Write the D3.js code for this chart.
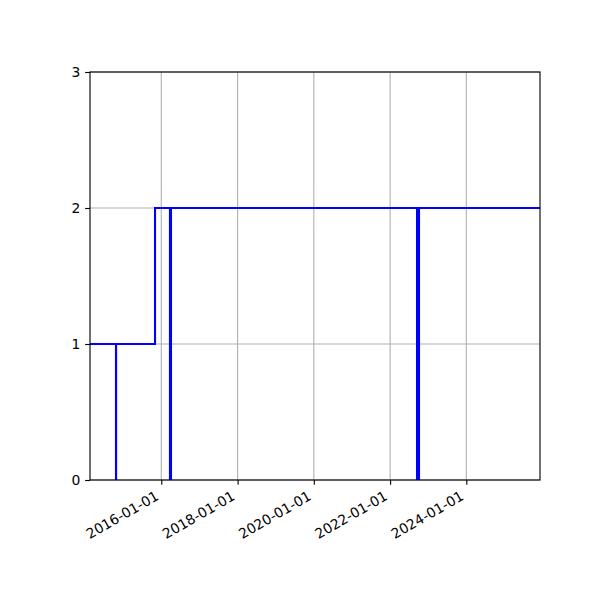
<!DOCTYPE html>
<html>
<head>
<meta charset="utf-8">
<script src="https://cdn.jsdelivr.net/npm/d3@7"></script>
<style>
  body { margin: 0; background: #fff; }
  text { font-family: "DejaVu Sans", sans-serif; font-size: 13.9px; fill: #000; }
</style>
</head>
<body>
<svg></svg>
<script>
// данные ступенчатого графика
const dates = ["2014-02-17", "2014-10-24", "2014-10-25", "2015-11-02",
               "2016-03-24", "2016-04-03", "2022-09-16", "2022-10-05", "2025-12-07"];
const values = [1, 0, 1, 2, 0, 2, 0, 2, 2];
const xTicks = ["2016-01-01", "2018-01-01", "2020-01-01", "2022-01-01", "2024-01-01"];
const yTicks = [0, 1, 2, 3];

const width = 600;
const height = 600;
const margin = {left: 90, right: 60, top: 72, bottom: 120};
const thin = 1.11; // 0.8pt

let svg = d3.select("svg")
    .attr("width", width)
    .attr("height", height);

const parse = d3.utcParse("%Y-%m-%d");
const data = dates.map((d, i) => ({date: parse(d), value: values[i]}));

const x = d3.scaleUtc()
    .domain(d3.extent(data, d => d.date))
    .range([margin.left, width - margin.right]);
const y = d3.scaleLinear()
    .domain([0, 3])
    .range([height - margin.bottom, margin.top]);

// сетка
let grid = svg.append("g")
    .style("stroke", "#b0b0b0")
    .style("stroke-width", thin);
grid.selectAll("line.gx").data(xTicks.map(parse)).join("line")
    .attr("class", "gx")
    .attr("x1", d => x(d)).attr("x2", d => x(d))
    .attr("y1", y(0)).attr("y2", y(3));
grid.selectAll("line.gy").data(yTicks).join("line")
    .attr("class", "gy")
    .attr("x1", x.range()[0]).attr("x2", x.range()[1])
    .attr("y1", d => y(d)).attr("y2", d => y(d));

// линия
svg.append("clipPath").attr("id", "clip")
    .append("rect")
    .attr("x", margin.left).attr("y", margin.top)
    .attr("width", width - margin.left - margin.right)
    .attr("height", height - margin.top - margin.bottom);

const line = d3.line()
    .x(d => x(d.date))
    .y(d => y(d.value))
    .curve(d3.curveStepAfter);

svg.append("path")
    .attr("d", line(data))
    .attr("clip-path", "url(#clip)")
    .attr("fill", "none")
    .attr("stroke", "#0000ff")
    .attr("stroke-width", 2.08)
    .attr("stroke-linejoin", "miter")
    .attr("stroke-linecap", "butt");

// оси
svg.append("g")
    .attr("transform", `translate(0, ${y(0)})`)
    .call(d3.axisBottom(x)
        .tickValues(xTicks.map(parse))
        .tickSize(4.86)
        .tickFormat(""));
svg.append("g")
    .attr("transform", `translate(${margin.left}, 0)`)
    .call(d3.axisLeft(y)
        .tickValues(yTicks)
        .tickSize(4.86)
        .tickFormat(""));
svg.selectAll(".domain").remove();
svg.selectAll(".tick line").attr("stroke", "#000").attr("stroke-width", thin);

// подписи делений
svg.append("g").selectAll("text").data(xTicks).join("text")
    .attr("transform", d => `translate(${x(parse(d)) - 1.6}, ${y(0) + 9.7 + 9.2}) rotate(-30)`)
    .attr("text-anchor", "end")
    .text(d => d);

svg.append("g").selectAll("text").data(yTicks).join("text")
    .attr("x", margin.left - 9.7)
    .attr("y", d => y(d))
    .attr("dy", "0.36em")
    .attr("text-anchor", "end")
    .text(d => d);

// рамка
svg.append("rect")
    .attr("x", margin.left).attr("y", margin.top)
    .attr("width", width - margin.left - margin.right)
    .attr("height", height - margin.top - margin.bottom)
    .attr("fill", "none")
    .attr("stroke", "#000")
    .attr("stroke-width", thin);
</script>
</body>
</html>
